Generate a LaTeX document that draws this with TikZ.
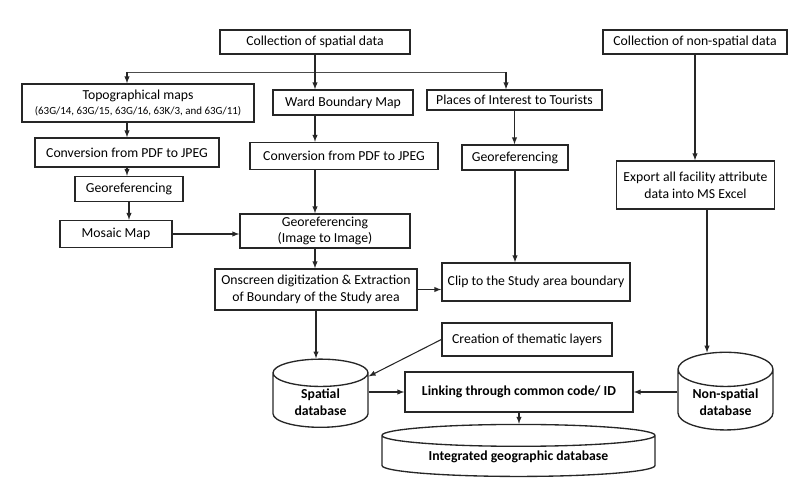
\documentclass[tikz,border=0pt]{standalone}
\usepackage{fontspec}
\setmainfont{Carlito}
\usepackage{tikz}
\usetikzlibrary{arrows,shapes.geometric,positioning,calc}

\begin{document}
\begin{tikzpicture}
	[x=0.75pt,y=-0.75pt,
	box/.style={rectangle,draw=black!85,line width=1pt,
		inner sep=1pt,align=center,font=\fontsize{10.3}{12.5}\selectfont},
	dbase/.style={cylinder,shape border rotate=90,draw=black!85,line width=1pt,
		inner sep=1pt,align=center,font=\fontsize{10.3}{13}\selectfont\bfseries},
	link/.style={-latex,draw=black!85,line width=0.8pt},
	link1/.style={draw=black!70,line width=0.6pt}]
	\useasboundingbox (0,0) rectangle (799,484);

	%spatial branch
	\node[box,minimum width=142.5pt,minimum height=18pt] (colsp) at (315,42) {Collection of spatial data};
	\node[box,minimum width=174pt,minimum height=28.5pt] (topo) at (138,103)
		{Topographical maps\\[-1pt]{\fontsize{8.2}{10}\selectfont (63G/14, 63G/15, 63G/16, 63K/3, and 63G/11)}};
	\node[box,minimum width=105pt,minimum height=18.75pt] (ward) at (343,102.5) {Ward Boundary Map};
	\node[box,minimum width=131.25pt,minimum height=15pt] (places) at (514.5,100) {Places of Interest to Tourists};
	\node[box,minimum width=138pt,minimum height=21.75pt] (conv1) at (127,152.5) {Conversion from PDF to JPEG};
	\node[box,minimum width=141pt,minimum height=20.25pt] (conv2) at (344,156) {Conversion from PDF to JPEG};
	\node[box,minimum width=79.5pt,minimum height=18.75pt] (geo3) at (515,157.5) {Georeferencing};
	\node[box,minimum width=81pt,minimum height=18.75pt] (geo1) at (129,189) {Georeferencing};
	\node[box,minimum width=84pt,minimum height=20.25pt] (mosaic) at (116,234) {Mosaic Map};
	\node[box,minimum width=127.5pt,minimum height=25.5pt] (geoimg) at (325,231)
		{Georeferencing\\(Image to Image)};
	\node[box,minimum width=151.5pt,minimum height=30.75pt] (onscreen) at (316,289.5)
		{Onscreen digitization \& Extraction\\of Boundary of the Study area};
	\node[box,minimum width=141pt,minimum height=28.5pt] (clip) at (536,282) {Clip to the Study area boundary};

	%non-spatial branch
	\node[box,minimum width=138pt,minimum height=18pt] (colns) at (695,42) {Collection of non-spatial data};
	\node[box,minimum width=118.5pt,minimum height=36pt] (export) at (695.5,185)
		{Export all facility attribute\\data into MS Excel};

	%databases
	\node[box,minimum width=127.5pt,minimum height=24.75pt] (creation) at (527,339.5) {Creation of thematic layers};
	\node[box,minimum width=171pt,minimum height=30pt,font=\fontsize{10.3}{12.5}\selectfont\bfseries] (link) at (519,392)
		{Linking through common code/ ID};
	\node[dbase,aspect=0.5,minimum width=71.25pt,minimum height=51pt] (sdb) at (320.5,402) {Spatial\\database};
	\node[dbase,aspect=0.5,minimum width=71.25pt,minimum height=51pt] (ndb) at (725.5,402) {Non-spatial\\database};
	\node[dbase,aspect=0.12,minimum width=204.75pt,minimum height=39pt] (idb) at (518.5,457)
		{Integrated geographic database};

	%connectors
	\coordinate (br1) at (127,72);
	\coordinate (br2) at (506,72);
	\draw[link1] (br1) -- (br2);
	\draw[link] (br1) -- (br1 |- topo.north);
	\draw[link] (br2) -- (br2 |- places.north);
	\draw[link] (colsp.south) -- (colsp.south |- ward.north);
	\draw[link] (topo.south -| conv1.north) -- (conv1.north);
	\draw[link] (conv1.south) -- (conv1.south |- geo1.north);
	\draw[link] (geo1.south) -- (geo1.south |- mosaic.north);
	\draw[link] (mosaic.east) -- (mosaic.east -| geoimg.west);
	\draw[link] (ward.south -| colsp.south) -- (conv2.north -| colsp.south);
	\draw[link] (conv2.south -| colsp.south) -- (geoimg.north -| colsp.south);
	\draw[link] (geoimg.south -| colsp.south) -- (onscreen.north -| colsp.south);
	\draw[link] (onscreen.south) -- (onscreen.south |- sdb.north);
	\draw[link] (places.south) -- (places.south |- geo3.north);
	\draw[link] (geo3.south) -- (geo3.south |- clip.north);
	\draw[link] (onscreen.east) -- (onscreen.east -| clip.west);
	\draw[link] (colns.south) -- (colns.south |- export.north);
	\draw[link] ($(export.south)+(11.5,0)$) -- ($(export.south |- ndb.north)+(11.5,1)$);
	\draw[link] (creation.west) -- (sdb.28);
	\draw[link] (link.west -| sdb.east) -- (link.west);
	\draw[link] (link.east -| ndb.west) -- (link.east);
	\draw[link] (link.south) -- (link.south |- idb.north);
	\end{tikzpicture}
\end{document}
